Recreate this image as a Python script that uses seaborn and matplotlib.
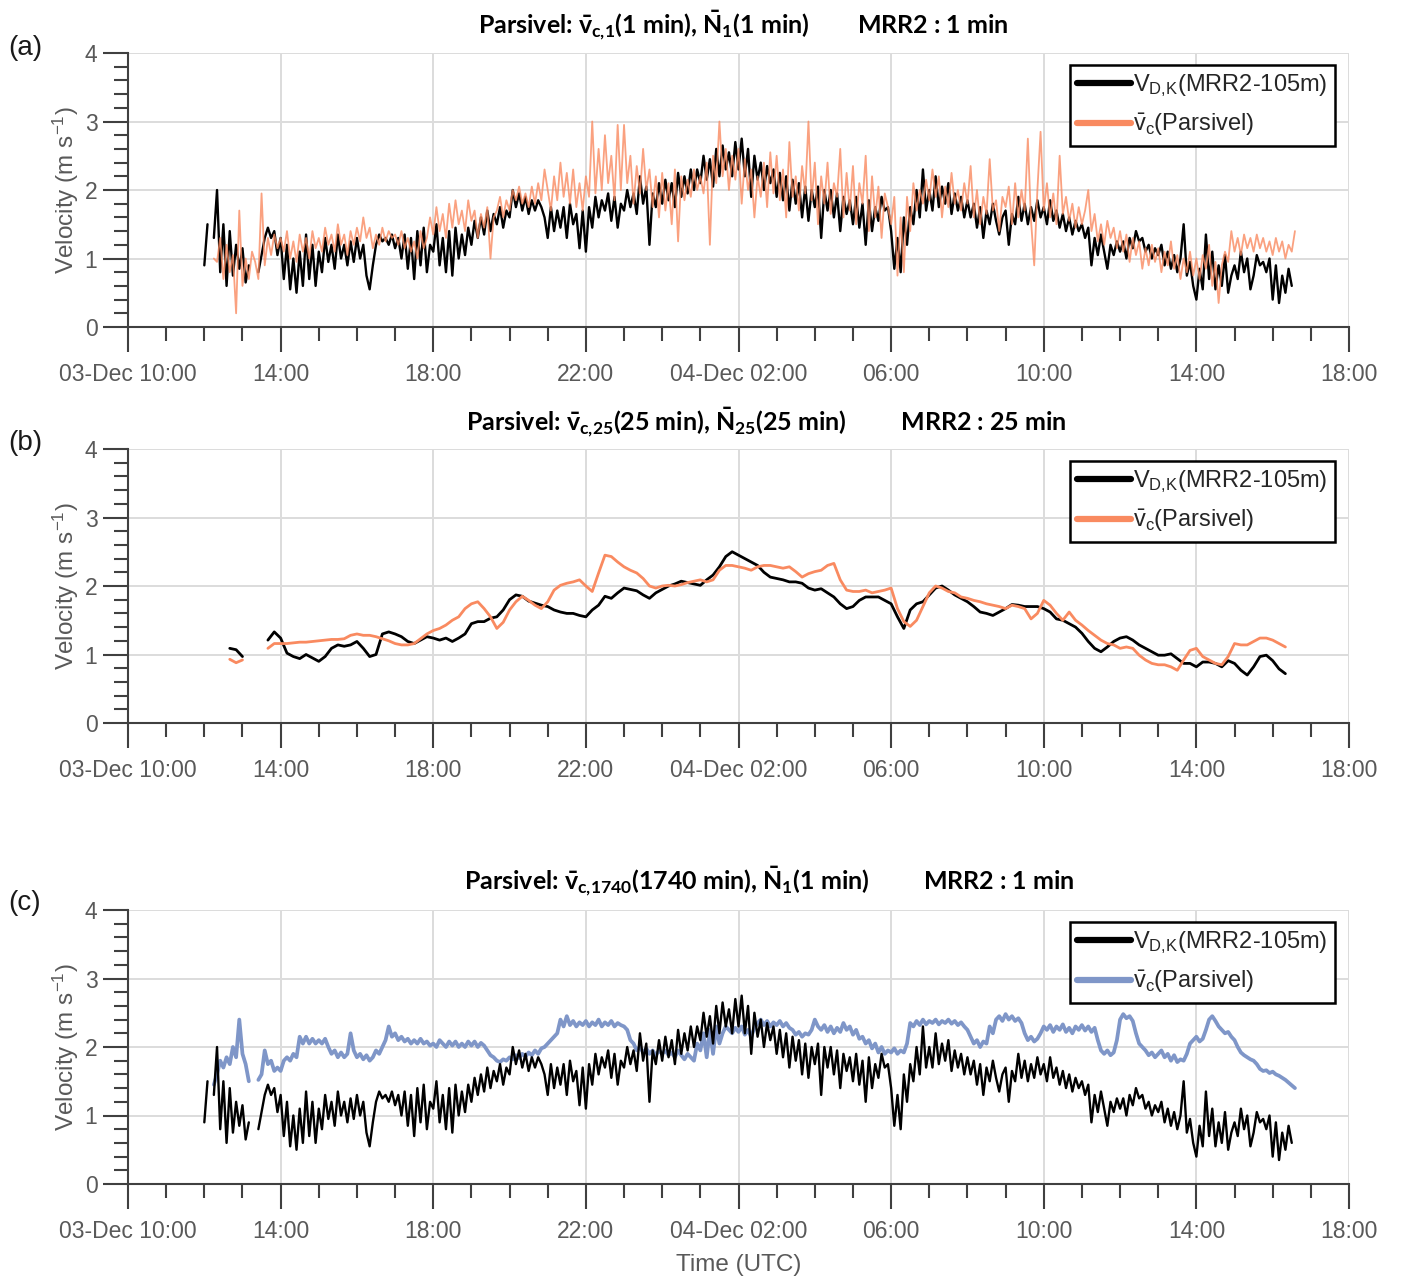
import numpy as np
import pandas as pd
import matplotlib
matplotlib.use("Agg")
import matplotlib.pyplot as plt
import seaborn as sns
from matplotlib.lines import Line2D
from matplotlib.ticker import MultipleLocator

nan = np.nan

# ---------------- data ----------------
ORIGIN = "10:00"  # x axis starts at 03-Dec 10:00
XTICK_LABELS = ["03-Dec 10:00", "14:00", "18:00", "22:00", "04-Dec 02:00",
                "06:00", "10:00", "14:00", "18:00"]
YTICK_LABELS = ["0", "1", "2", "3", "4"]

# MRR2 V_D,K (1 min), sampled every 5 min, start 03-Dec 12:00
VDK_1MIN_START = "12:00"
VDK_1MIN = [
    0.90, 1.50, nan, 1.30, 2.00, 0.80, 1.50, 0.60, 1.40, 0.75, 1.20, 0.85,
    1.15, 0.65, 0.90, nan, nan, 0.80, 1.05, 1.30, 1.45, 1.30, 1.40, 1.05,
    1.30, 0.70, 1.20, 0.55, 1.00, 0.50, 1.10, 0.60, 1.35, 0.70, 1.20, 0.60,
    1.10, 0.80, 1.30, 0.95, 1.20, 0.85, 1.35, 1.00, 1.20, 0.90, 1.25, 0.95,
    1.30, 1.00, 1.20, 0.75, 0.55, 0.90, 1.20, 1.35, 1.25, 1.30, 1.20, 1.35,
    1.15, 1.30, 1.00, 1.35, 0.85, 1.30, 0.70, 1.40, 0.90, 1.45, 0.80, 1.20,
    1.10, 1.50, 0.90, 1.30, 0.80, 1.40, 0.75, 1.45, 1.00, 1.35, 1.05, 1.45,
    1.20, 1.55, 1.30, 1.60, 1.35, 1.70, 1.40, 1.65, 1.50, 1.75, 1.45, 1.70,
    1.60, 2.00, 1.75, 1.95, 1.70, 1.90, 1.65, 1.85, 1.70, 1.85, 1.75, 1.60,
    1.30, 1.75, 1.40, 1.70, 1.45, 1.75, 1.30, 1.80, 1.50, 1.65, 1.15, 1.70,
    1.10, 1.75, 1.45, 1.90, 1.60, 1.85, 1.70, 1.95, 1.55, 1.90, 1.45, 1.80,
    1.70, 2.00, 1.75, 1.95, 1.65, 2.20, 1.80, 2.05, 1.20, 1.95, 1.75, 2.10,
    1.80, 2.15, 1.85, 2.10, 1.75, 2.25, 1.90, 2.20, 1.95, 2.30, 2.00, 2.30,
    2.10, 2.50, 2.15, 2.45, 2.05, 2.60, 2.20, 2.65, 2.30, 2.55, 2.20, 2.70,
    2.30, 2.75, 2.20, 2.60, 1.90, 2.50, 2.15, 2.40, 2.00, 2.35, 2.10, 2.30,
    1.90, 2.25, 1.85, 2.20, 1.70, 2.15, 1.80, 2.10, 1.60, 2.05, 1.55, 2.00,
    1.75, 2.05, 1.30, 2.00, 1.70, 2.00, 1.60, 1.95, 1.40, 1.90, 1.65, 1.85,
    1.50, 1.90, 1.45, 1.80, 1.20, 1.85, 1.40, 1.75, 1.55, 1.90, 1.70, 1.75,
    1.40, 0.85, 1.30, 0.80, 1.60, 1.20, 1.75, 1.50, 2.00, 1.60, 2.30, 1.70,
    2.00, 1.70, 2.20, 1.75, 2.05, 1.80, 2.10, 1.65, 1.95, 1.70, 1.90, 1.60,
    1.85, 1.60, 1.80, 1.45, 1.75, 1.30, 1.70, 1.50, 1.80, 1.55, 1.35, 1.60,
    1.70, 1.20, 1.65, 1.50, 1.90, 1.55, 1.80, 1.50, 1.75, 1.55, 1.85, 1.60,
    1.75, 1.50, 1.85, 1.55, 1.70, 1.45, 1.65, 1.40, 1.60, 1.35, 1.55, 1.40,
    1.50, 1.30, 1.45, 0.90, 1.30, 1.05, 1.35, 1.10, 0.85, 1.20, 1.05, 1.25,
    1.10, 1.25, 1.00, 1.30, 1.15, 1.40, 1.25, 1.30, 1.10, 1.20, 1.00, 1.15,
    1.05, 1.20, 0.90, 1.10, 0.85, 1.05, 0.80, 1.00, 1.50, 0.75, 0.95, 0.60,
    0.40, 0.85, 0.55, 1.35, 0.70, 1.10, 0.55, 0.90, 0.60, 1.05, 0.50, 0.75,
    0.90, 0.70, 1.10, 0.80, 1.00, 0.55, 0.75, 1.05, 0.90, 0.95, 0.80, 1.00,
    0.40, 0.90, 0.35, 0.75, 0.50, 0.85, 0.60,
]

# Parsivel v_c (1 min), sampled every 5 min, start 03-Dec 12:15
VC_1MIN_START = "12:15"
VC_1MIN = [
    1.00, 0.95, 1.30, 0.70, 1.20, 0.80, 1.05, 0.20, 1.70,
    0.60, 1.00, 0.70, 1.10, 0.95, 0.70, 1.95, 0.90, 1.30, 1.05, 1.35, 1.15,
    1.30, 1.10, 1.40, 1.00, 1.25, 0.95, 1.35, 1.10, 1.30, 1.00, 1.40, 1.15,
    1.30, 1.10, 1.45, 1.20, 1.35, 1.10, 1.50, 1.20, 1.35, 1.05, 1.40, 1.20,
    1.45, 1.25, 1.60, 1.30, 1.45, 1.15, 1.35, 1.20, 1.45, 1.25, 1.40, 1.30,
    1.35, 1.20, 1.40, 1.15, 1.30, 1.10, 1.25, 1.00, 1.40, 1.15, 1.30, 1.60,
    1.35, 1.75, 1.40, 1.65, 1.30, 1.80, 1.45, 1.85, 1.50, 1.70, 1.40, 1.85,
    1.55, 1.70, 1.30, 1.65, 1.45, 1.75, 1.00, 1.60, 1.70, 1.90, 1.60, 1.85,
    1.70, 2.00, 1.85, 2.05, 1.80, 1.95, 1.75, 2.05, 1.80, 2.10, 1.85, 2.30,
    2.00, 1.70, 2.20, 1.85, 2.40, 1.90, 2.25, 1.80, 2.30, 1.75, 2.10, 1.70,
    2.20, 1.90, 3.00, 1.95, 2.60, 2.00, 2.80, 2.10, 2.50, 1.85, 2.95, 2.00,
    2.95, 2.10, 2.50, 1.80, 2.35, 1.95, 2.60, 2.00, 2.30, 1.75, 2.20, 1.60,
    2.25, 1.70, 2.10, 1.50, 2.30, 1.25, 2.20, 1.85, 2.15, 1.90, 2.30, 2.00,
    2.20, 1.95, 2.40, 1.20, 2.50, 2.10, 3.00, 2.20, 2.60, 2.00, 2.50, 2.15,
    2.60, 1.80, 2.45, 2.00, 2.30, 1.60, 2.20, 1.90, 2.40, 1.75, 2.55, 1.95,
    2.50, 1.85, 2.30, 1.60, 2.70, 1.90, 2.20, 1.70, 2.35, 1.95, 3.00, 1.85,
    2.40, 1.50, 2.20, 1.80, 2.40, 1.65, 2.10, 1.90, 2.60, 1.60, 2.25, 1.70,
    2.35, 1.50, 2.10, 1.80, 2.50, 1.40, 2.20, 1.60, 2.05, 1.30, 1.95, 1.75,
    1.50, 1.90, 0.75, 1.60, 0.80, 1.90, 1.40, 2.10, 1.70, 2.00, 1.80, 2.15,
    1.85, 2.30, 1.90, 2.20, 1.60, 2.05, 1.75, 2.25, 1.80, 2.00, 1.70, 2.10,
    1.80, 2.35, 1.60, 2.00, 1.50, 1.90, 1.65, 2.45, 1.70, 1.85, 1.40, 1.90,
    1.75, 2.05, 1.50, 2.10, 1.60, 2.00, 1.70, 2.75, 1.55, 0.90, 2.00, 2.85,
    1.70, 2.10, 1.60, 1.95, 1.50, 2.50, 1.65, 1.90, 1.55, 1.80, 1.45, 1.75,
    1.50, 1.70, 2.00, 1.40, 1.65, 1.25, 1.50, 1.20, 1.55, 1.30, 1.45, 1.15,
    1.40, 1.10, 1.35, 0.95, 1.30, 1.05, 1.25, 0.85, 1.15, 0.90, 1.20, 0.95,
    1.15, 0.80, 1.10, 0.90, 1.25, 0.85, 1.05, 0.70, 1.00, 0.80, 1.10, 0.75,
    1.00, 0.70, 1.05, 0.85, 1.20, 0.60, 0.95, 0.35, 0.90, 1.10, 0.95, 1.40,
    1.10, 1.30, 1.05, 1.35, 1.15, 1.30, 1.10, 1.35, 1.15, 1.30, 1.10, 1.25,
    1.05, 1.30, 1.10, 1.25, 1.00, 1.20, 1.10, 1.40,
]

# 25-min averages, sampled every 10 min, start 03-Dec 12:40
AVG25_START = "12:40"
VDK_25MIN = [
    1.09, 1.07, 0.97, nan, nan, nan, 1.21, 1.33,
    1.24, 1.02, 0.97, 0.94, 1.00, 0.95,
    0.90, 0.97, 1.09, 1.14, 1.12, 1.14,
    1.19, 1.09, 0.97, 1.00, 1.30, 1.33,
    1.30, 1.26, 1.19, 1.16, 1.21, 1.26,
    1.24, 1.21, 1.24, 1.19, 1.24, 1.30,
    1.45, 1.48, 1.48, 1.53, 1.55, 1.65,
    1.80, 1.87, 1.85, 1.78, 1.75, 1.72,
    1.70, 1.65, 1.62, 1.60, 1.60, 1.57,
    1.55, 1.65, 1.72, 1.85, 1.82, 1.90,
    1.97, 1.95, 1.93, 1.87, 1.82, 1.90,
    1.95, 2.00, 2.03, 2.07, 2.05, 2.03,
    2.01, 2.09, 2.16, 2.28, 2.43, 2.50,
    2.45, 2.40, 2.35, 2.30, 2.20, 2.13,
    2.11, 2.09, 2.06, 2.06, 2.04, 1.97,
    1.94, 1.96, 1.90, 1.84, 1.74, 1.67,
    1.70, 1.79, 1.84, 1.84, 1.84, 1.79,
    1.74, 1.55, 1.38, 1.65, 1.74, 1.77,
    1.87, 1.97, 2.00, 1.94, 1.87, 1.82,
    1.77, 1.70, 1.62, 1.60, 1.57, 1.62,
    1.67, 1.73, 1.72, 1.70, 1.70, 1.70,
    1.67, 1.62, 1.52, 1.50, 1.45, 1.40,
    1.31, 1.19, 1.09, 1.04, 1.11, 1.19,
    1.24, 1.26, 1.21, 1.14, 1.09, 1.04,
    0.99, 0.99, 1.01, 0.94, 0.87, 0.87,
    0.82, 0.89, 0.89, 0.87, 0.82, 0.91,
    0.87, 0.77, 0.70, 0.82, 0.97, 0.99,
    0.91, 0.79, 0.72,
]
VC_25MIN = [
    0.93, 0.88, 0.92, nan, nan, nan, 1.09, 1.16,
    1.16, 1.16, 1.17, 1.18, 1.18, 1.19,
    1.20, 1.21, 1.22, 1.22, 1.23, 1.28,
    1.30, 1.28, 1.28, 1.26, 1.23, 1.20,
    1.16, 1.14, 1.14, 1.16, 1.23, 1.30,
    1.35, 1.38, 1.43, 1.50, 1.55, 1.67,
    1.74, 1.77, 1.67, 1.55, 1.38, 1.47,
    1.65, 1.77, 1.85, 1.79, 1.72, 1.67,
    1.77, 1.94, 2.01, 2.04, 2.06, 2.09,
    2.00, 1.92, 2.19, 2.45, 2.43, 2.35,
    2.28, 2.23, 2.19, 2.11, 2.00, 1.97,
    2.00, 2.01, 2.00, 2.02, 2.05, 2.07,
    2.09, 2.06, 2.09, 2.23, 2.30, 2.30,
    2.28, 2.26, 2.23, 2.28, 2.30, 2.30,
    2.28, 2.26, 2.28, 2.21, 2.13, 2.18,
    2.21, 2.23, 2.30, 2.33, 2.09, 1.94,
    1.92, 1.92, 1.94, 1.90, 1.92, 1.94,
    1.97, 1.67, 1.48, 1.41, 1.50, 1.70,
    1.90, 2.00, 1.97, 1.92, 1.90, 1.84,
    1.82, 1.79, 1.77, 1.74, 1.72, 1.70,
    1.67, 1.72, 1.70, 1.67, 1.52, 1.60,
    1.79, 1.72, 1.60, 1.50, 1.62, 1.50,
    1.43, 1.35, 1.28, 1.21, 1.16, 1.14,
    1.09, 1.11, 1.09, 0.99, 0.92, 0.87,
    0.85, 0.85, 0.82, 0.77, 0.92, 1.06,
    1.09, 0.97, 0.92, 0.87, 0.85, 0.97,
    1.16, 1.14, 1.14, 1.19, 1.24, 1.24,
    1.21, 1.16, 1.11,
]

# Parsivel v_c,1740 (1740 min), sampled every 5 min, start 03-Dec 12:15
VC_1740_START = "12:15"
VC_1740 = [
    1.45, 1.60, 1.80, 1.70, 1.85, 1.75, 2.00, 1.85, 2.40,
    1.90, 1.75, 1.50, nan, nan, 1.52, 1.60, 1.95, 1.75, 1.80, 1.65, 1.70,
    1.65, 1.80, 1.85, 1.80, 1.90, 1.85, 2.15, 2.05, 2.15, 2.05, 2.12, 2.05,
    2.10, 2.05, 2.12, 2.00, 1.90, 1.95, 1.85, 1.92, 1.85, 1.90, 2.20, 1.95,
    1.85, 1.90, 1.82, 1.88, 1.80, 1.85, 1.95, 1.90, 2.00, 2.10, 2.30, 2.15,
    2.20, 2.10, 2.15, 2.08, 2.12, 2.05, 2.10, 2.05, 2.12, 2.05, 2.08, 2.02,
    2.05, 2.00, 2.10, 2.05, 2.00, 2.08, 2.02, 2.08, 2.00, 2.05, 2.00, 2.08,
    2.02, 2.08, 2.00, 2.06, 2.02, 1.95, 1.88, 1.85, 1.80, 1.78, 1.82, 1.80,
    1.85, 1.82, 1.88, 1.84, 1.90, 1.86, 1.92, 1.88, 1.95, 1.90, 1.98, 2.00,
    2.05, 2.10, 2.15, 2.20, 2.40, 2.30, 2.45, 2.32, 2.38, 2.30, 2.36, 2.32,
    2.38, 2.30, 2.36, 2.32, 2.40, 2.30, 2.36, 2.32, 2.38, 2.30, 2.35, 2.32,
    2.30, 2.25, 2.10, 2.05, 1.95, 2.00, 1.92, 1.98, 1.90, 1.95, 1.88, 1.95,
    1.90, 1.95, 1.88, 1.92, 1.85, 1.95, 1.88, 1.82, 1.90, 1.85, 1.80, 2.05,
    1.95, 2.20, 1.85, 2.25, 1.90, 2.30, 2.05, 2.20, 2.30, 2.25, 2.20, 2.28,
    2.22, 2.30, 2.18, 2.25, 2.15, 2.28, 2.35, 2.40, 2.32, 2.38, 2.30, 2.36,
    2.32, 2.38, 2.30, 2.35, 2.28, 2.25, 2.18, 2.22, 2.15, 2.20, 2.18, 2.25,
    2.40, 2.30, 2.25, 2.32, 2.22, 2.30, 2.20, 2.28, 2.22, 2.35, 2.25, 2.30,
    2.18, 2.25, 2.12, 2.15, 2.05, 2.10, 1.98, 2.05, 1.92, 2.00, 1.90, 1.95,
    1.92, 1.98, 1.90, 1.95, 1.92, 2.05, 2.35, 2.30, 2.38, 2.32, 2.40, 2.33,
    2.38, 2.35, 2.40, 2.33, 2.38, 2.35, 2.40, 2.34, 2.38, 2.32, 2.36, 2.30,
    2.25, 2.15, 2.05, 2.10, 2.00, 2.08, 2.05, 2.30, 2.20, 2.40, 2.45, 2.38,
    2.48, 2.40, 2.45, 2.38, 2.42, 2.35, 2.20, 2.10, 2.15, 2.08, 2.12, 2.20,
    2.30, 2.25, 2.32, 2.22, 2.30, 2.25, 2.33, 2.22, 2.28, 2.20, 2.30, 2.25,
    2.32, 2.24, 2.30, 2.22, 2.28, 2.10, 1.95, 1.90, 1.95, 1.88, 1.92, 2.10,
    2.40, 2.48, 2.42, 2.45, 2.38, 2.20, 2.05, 2.00, 1.95, 1.88, 1.92, 1.85,
    1.90, 1.95, 1.85, 1.90, 1.80, 1.88, 1.78, 1.82, 1.80, 1.90, 2.05, 2.10,
    2.15, 2.08, 2.12, 2.25, 2.40, 2.45, 2.38, 2.30, 2.25, 2.20, 2.22, 2.15,
    2.10, 2.00, 1.92, 1.88, 1.85, 1.82, 1.80, 1.75, 1.68, 1.65, 1.66, 1.62,
    1.64, 1.60, 1.58, 1.55, 1.52, 1.48, 1.44, 1.40,
]

TITLES = [
    r"Parsivel: $\mathregular{\bar{v}_{c{,}1}}$(1 min), $\mathregular{\bar{N}_{1}}$(1 min)        MRR2 : 1 min",
    r"Parsivel: $\mathregular{\bar{v}_{c{,}25}}$(25 min), $\mathregular{\bar{N}_{25}}$(25 min)         MRR2 : 25 min",
    r"Parsivel: $\mathregular{\bar{v}_{c{,}1740}}$(1740 min), $\mathregular{\bar{N}_{1}}$(1 min)         MRR2 : 1 min",
]
PANEL_LABELS = ["(a)", "(b)", "(c)"]
LEGEND_LABELS = [r"$\mathregular{V_{D{,}K}}$(MRR2-105m)", r"$\mathregular{\bar{v}_c}$(Parsivel)"]

BLACK = "#000000"
ORANGE = "#F98A60"
BLUE = "#7F96C8"
GRAY_TXT = "#595959"
AX_COL = "#404040"


def clock_hours(s):
    h, m = s.split(":")
    return int(h) + int(m) / 60.0


def to_frame(start, step_min, values):
    v = np.asarray(values, dtype=float)
    t = clock_hours(start) - clock_hours(ORIGIN) + step_min * np.arange(v.size) / 60.0
    df = pd.DataFrame({"t": t, "v": v})
    df["seg"] = np.isnan(v).cumsum()
    return df.dropna()


# ---------------- style ----------------
sns.set_style("white")
plt.rcParams["font.family"] = ["Liberation Sans", "DejaVu Sans"]
plt.rcParams["mathtext.fontset"] = "custom"
plt.rcParams["mathtext.rm"] = "Liberation Sans"
plt.rcParams["mathtext.it"] = "Liberation Sans:italic"
plt.rcParams["mathtext.bf"] = "Liberation Sans:bold"

W, H = 1406, 1277
fig = plt.figure(figsize=(W / 100, H / 100), dpi=100)
AX_LEFT, AX_RIGHT = 128, 1349
AX_BOTTOMS = [327, 723, 1184]
AX_H = 274
axes = [fig.add_axes([AX_LEFT / W, 1 - b / H, (AX_RIGHT - AX_LEFT) / W, AX_H / H])
        for b in AX_BOTTOMS]


def draw(ax, start, step, values, color, lw, alpha=1.0, z=2):
    df = to_frame(start, step, values)
    sns.lineplot(data=df, x="t", y="v", units="seg", estimator=None, color=color,
                 lw=lw, alpha=alpha, ax=ax, zorder=z, legend=False)


draw(axes[0], VDK_1MIN_START, 5, VDK_1MIN, BLACK, 1.7, z=2)
draw(axes[0], VC_1MIN_START, 5, VC_1MIN, ORANGE, 1.3, alpha=0.8, z=3)

draw(axes[1], AVG25_START, 10, VDK_25MIN, BLACK, 2.0, z=2)
draw(axes[1], AVG25_START, 10, VC_25MIN, ORANGE, 2.0, z=3)

draw(axes[2], VC_1740_START, 5, VC_1740, BLUE, 2.7, z=2)
draw(axes[2], VDK_1MIN_START, 5, VDK_1MIN, BLACK, 1.7, z=3)

TITLE_X = [0.5037, 0.5225, 0.525]
TITLE_Y = [1.072, 1.066, 1.073]
PANEL_Y = [48, 443, 903]

for i, ax in enumerate(axes):
    ax.set_xlim(0, 32)
    ax.set_ylim(0, 4)
    ax.set_xticks(np.arange(0, 33, 4))
    ax.set_xticklabels(XTICK_LABELS)
    ax.set_yticks(np.arange(0, 5, 1))
    ax.set_yticklabels(YTICK_LABELS)
    ax.xaxis.set_minor_locator(MultipleLocator(1))
    ax.yaxis.set_minor_locator(MultipleLocator(0.2))
    ax.grid(True, which="major", color="#dcdcdc", lw=1.4)
    ax.set_axisbelow(True)
    for s in ["top", "right"]:
        ax.spines[s].set_visible(False)
    for s in ["left", "bottom"]:
        ax.spines[s].set_color(AX_COL)
        ax.spines[s].set_linewidth(1.5)
    ax.tick_params(axis="x", which="major", direction="out", length=18, width=1.5,
                   color=AX_COL, pad=8, labelsize=16.5, labelcolor=GRAY_TXT, bottom=True)
    ax.tick_params(axis="x", which="minor", direction="out", length=10, width=1.5,
                   color=AX_COL, bottom=True)
    ax.tick_params(axis="y", which="major", direction="out", length=18, width=1.5,
                   color=AX_COL, pad=4, labelsize=16.5, labelcolor=GRAY_TXT, left=True)
    ax.tick_params(axis="y", which="minor", direction="out", length=10, width=1.5,
                   color=AX_COL, left=True)
    ax.set_ylabel(r"Velocity (m s$\mathregular{^{-1}}$)", fontsize=17.5, color=GRAY_TXT, labelpad=3)
    ax.set_xlabel("")

    ax.text(TITLE_X[i], TITLE_Y[i], TITLES[i], transform=ax.transAxes, ha="center",
            va="baseline", fontsize=18, fontweight="bold", family=["Lato", "DejaVu Sans"],
            color="black")
    fig.text(8 / W, 1 - PANEL_Y[i] / H, PANEL_LABELS[i], ha="left", va="center",
             fontsize=20, color="#1a1a1a")

    second = ORANGE if i < 2 else BLUE
    handles = [Line2D([], [], color=BLACK, lw=4.5), Line2D([], [], color=second, lw=4.5)]
    leg = ax.legend(handles, LEGEND_LABELS, loc="upper right",
                    bbox_to_anchor=(0.9885, 0.956), borderaxespad=0, frameon=True,
                    fancybox=False, edgecolor="black", framealpha=1, fontsize=17,
                    handlelength=2.3, handletextpad=0.1, borderpad=0.3,
                    labelspacing=0.55)
    leg.get_frame().set_linewidth(1.8)
    for txt in leg.get_texts():
        txt.set_color("#262626")

axes[2].set_xlabel("Time (UTC)", fontsize=17.5, color=GRAY_TXT, labelpad=8)

fig.savefig("out.png", dpi=100)
